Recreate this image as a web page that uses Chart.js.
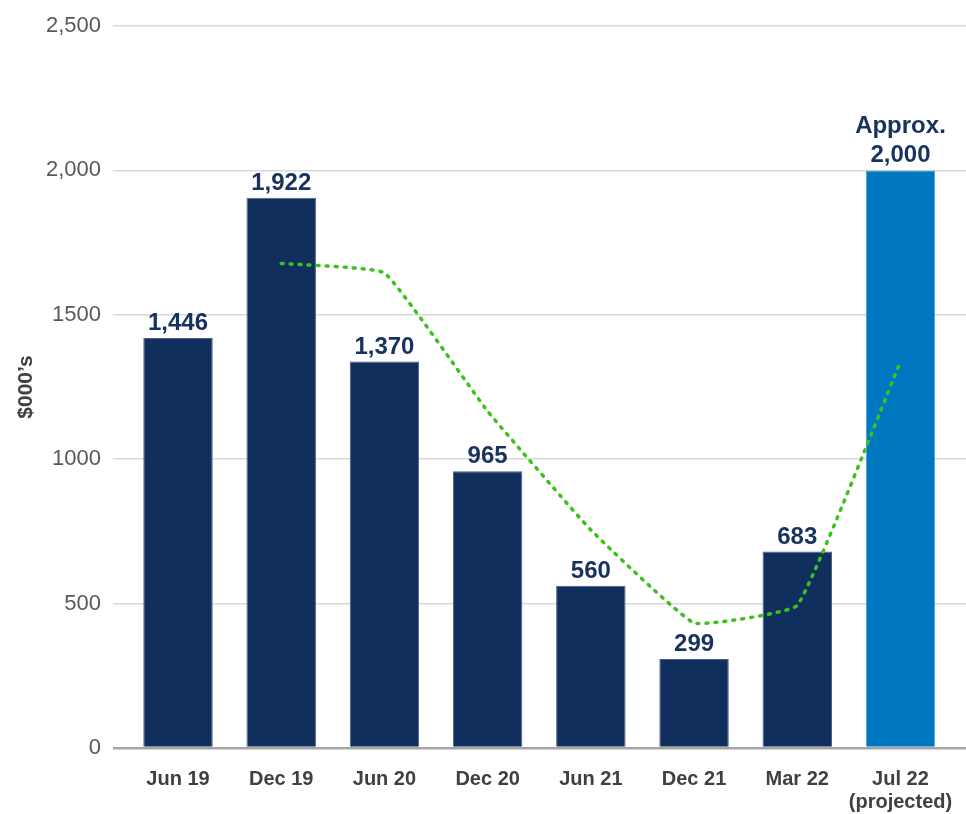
<!DOCTYPE html>
<html>
<head>
<meta charset="utf-8">
<script src="https://cdn.jsdelivr.net/npm/chart.js@4.4.1/dist/chart.umd.min.js"></script>
<style>
    html, body { margin: 0; padding: 0; background: #fff; }
    #chart { display: block; }
</style>
</head>
<body>
<canvas id="chart" width="966" height="814"></canvas>
<script>
// values
const categories = ['Jun 19', 'Dec 19', 'Jun 20', 'Dec 20', 'Jun 21', 'Dec 21', 'Mar 22', ['Jul 22', '(projected)']];
const barValues = [1420, 1905, 1338, 958, 562, 308, 680, 2000];
const barLabels = [['1,446'], ['1,922'], ['1,370'], ['965'], ['560'], ['299'], ['683'], ['Approx.', '2,000']];
const trendValues = [null, 1678, 1645, 1166, 755, 433, 494, 1338];
const yTickLabels = ['0', '500', '1000', '1500', '2,000', '2,500'];

const FONT = "'Liberation Sans', Arial, sans-serif";
const NAVY = '#112f5d';
const BLUE = '#0077c1';

const barColors = categories.map((c, i) => i === categories.length - 1 ? BLUE : NAVY);
const barBorders = categories.map((c, i) => i === categories.length - 1 ? '#4d9fd6' : '#4a5f85');

// numbers above the bars
const valueLabels = {
    id: 'valueLabels',
    afterDatasetsDraw(chart) {
        const ctx = chart.ctx;
        const meta = chart.getDatasetMeta(1);
        ctx.save();
        ctx.fillStyle = '#17325f';
        ctx.font = 'bold 24px ' + FONT;
        ctx.textAlign = 'center';
        ctx.textBaseline = 'alphabetic';
        meta.data.forEach((bar, i) => {
            const lines = barLabels[i];
            lines.forEach((line, j) => {
                const y = bar.y - 8 - (lines.length - 1 - j) * 29;
                ctx.fillText(line, bar.x, y);
            });
        });
        ctx.restore();
    }
};

const ctx = document.getElementById('chart').getContext('2d');
new Chart(ctx, {
    data: {
        datasets: [
            {
                type: 'line',
                order: 0,
                data: trendValues.map((v, i) => ({ x: i, y: v })),
                borderColor: '#3cc21c',
                borderWidth: 3.5,
                borderDash: [2, 7],
                borderCapStyle: 'round',
                tension: 0.1,
                pointRadius: 0,
                fill: false
            },
            {
                type: 'bar',
                order: 1,
                data: barValues.map((v, i) => ({ x: i, y: v })),
                backgroundColor: barColors,
                borderColor: barBorders,
                borderWidth: 1,
                categoryPercentage: 1,
                barPercentage: 0.673
            }
        ]
    },
    options: {
        responsive: false,
        animation: false,
        layout: {
            padding: { left: 14, top: 26, right: 0, bottom: 0 }
        },
        plugins: {
            legend: { display: false },
            tooltip: { enabled: false }
        },
        scales: {
            x: {
                type: 'linear',
                offset: false,
                min: -0.63,
                max: 7.635,
                afterBuildTicks: scale => {
                    scale.ticks = categories.map((c, i) => ({ value: i }));
                },
                afterFit: scale => {
                    scale.height = 66;
                    scale.paddingLeft = 0;
                    scale.paddingRight = 0;
                },
                grid: { display: false, drawTicks: false, offset: false },
                border: { display: false },
                ticks: {
                    autoSkip: false,
                    maxRotation: 0,
                    minRotation: 0,
                    padding: 20,
                    color: '#404040',
                    font: { family: FONT, size: 20, weight: 'bold', lineHeight: 1.15 },
                    callback: value => categories[value]
                }
            },
            y: {
                min: 0,
                max: 2500,
                afterFit: scale => { scale.width = 99; },
                grid: {
                    drawTicks: false,
                    color: c => c.tick.value === 0 ? '#a6a6a6' : '#d9d9d9',
                    lineWidth: c => c.tick.value === 0 ? 2.5 : 1.5
                },
                border: { display: false },
                ticks: {
                    stepSize: 500,
                    padding: 12,
                    color: '#595959',
                    font: { family: FONT, size: 22 },
                    callback: value => yTickLabels[value / 500]
                },
                title: {
                    display: true,
                    text: '$000’s',
                    color: '#404040',
                    padding: 0,
                    font: { family: FONT, size: 21, weight: 'bold' }
                }
            }
        }
    },
    plugins: [valueLabels]
});
</script>
</body>
</html>
